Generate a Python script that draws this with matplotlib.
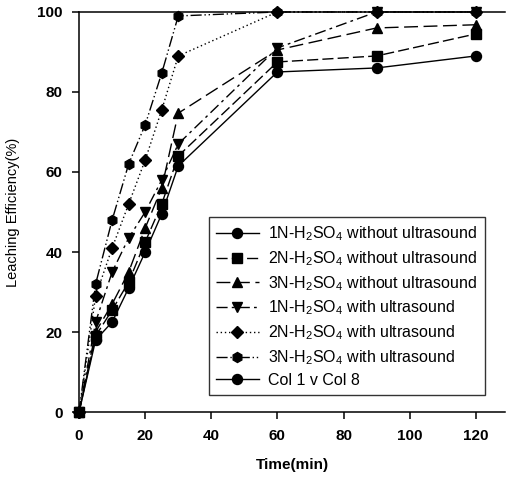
#!/usr/bin/env python3
"""Leaching efficiency vs time, with and without ultrasound."""

import matplotlib
matplotlib.use("Agg")
import matplotlib.pyplot as plt

plt.rcParams["font.family"] = ["Liberation Sans", "DejaVu Sans"]
plt.rcParams["mathtext.fontset"] = "custom"
plt.rcParams["mathtext.rm"] = "Liberation Sans"
plt.rcParams["mathtext.it"] = "Liberation Sans:italic"
plt.rcParams["mathtext.bf"] = "Liberation Sans:bold"

time_min = [0, 5, 10, 15, 20, 25, 30, 60, 90, 120]

n1_without = [0, 18, 22.5, 31, 40, 49.5, 61.5, 85, 86, 89]
n2_without = [0, 19, 25.5, 32.5, 42.5, 52, 64, 87.5, 89, 94.5]
n3_without = [0, 20, 27, 35, 46, 56, 74.7, 90.5, 96, 96.8]
n1_with = [0, 22.5, 35, 43.5, 50, 58, 67, 91, 100, 100]
n2_with = [0, 29, 41, 52, 63, 75.5, 89, 100, 100, 100]
n3_with = [0, 32, 48, 62, 71.8, 84.7, 99, 100, 100, 100]
col1_time = [0]
col1_val = [0]

labels = [
    r"1N-H$_2$SO$_4$ without ultrasound",
    r"2N-H$_2$SO$_4$ without ultrasound",
    r"3N-H$_2$SO$_4$ without ultrasound",
    r"1N-H$_2$SO$_4$ with ultrasound",
    r"2N-H$_2$SO$_4$ with ultrasound",
    r"3N-H$_2$SO$_4$ with ultrasound",
    "Col 1 v Col 8",
]

fig = plt.figure(figsize=(5.07, 4.78), dpi=100)
ax = fig.add_axes([0.156, 0.138, 0.841, 0.837])

series = [
    (time_min, n1_without, "o", "-"),
    (time_min, n2_without, "s", (0, (8, 3))),
    (time_min, n3_without, "^", (0, (10, 4))),
    (time_min, n1_with, "v", (0, (8, 3, 2, 3))),
    (time_min, n2_with, "D", (0, (1, 2))),
    (time_min, n3_with, "h", (0, (8, 2, 1, 2, 1, 2))),
    (col1_time, col1_val, "o", "-"),
]

for (x, y, mk, ls), lab in zip(series, labels):
    ms = 6.3 if mk == "D" else 7.2
    ax.plot(x, y, color="black", marker=mk, linestyle=ls, linewidth=1.0,
            markersize=ms, label=lab, clip_on=False, zorder=3)

ax.set_xlim(0, 129)
ax.set_ylim(0, 100)
ax.set_xticks([0, 20, 40, 60, 80, 100, 120])
ax.set_yticks([0, 20, 40, 60, 80, 100])
ax.spines["right"].set_visible(False)
for s in ("left", "bottom", "top"):
    ax.spines[s].set_linewidth(1.1)
ax.tick_params(direction="out", length=5, width=1.1, labelsize=11,
               top=False, right=False, pad=7)
for t in ax.get_xticklabels() + ax.get_yticklabels():
    t.set_fontweight("bold")

ax.set_xlabel("Time(min)", fontsize=11, fontweight="bold", labelpad=11)
ax.set_ylabel("Leaching Efficiency(%)", fontsize=10.5, labelpad=12)

leg = ax.legend(loc="lower right", bbox_to_anchor=(0.952, 0.042), fontsize=11.5,
                frameon=True, fancybox=False, edgecolor="black",
                handlelength=2.7, labelspacing=0.38, borderpad=0.45,
                handletextpad=0.6, borderaxespad=0)
leg.get_frame().set_linewidth(1.0)

fig.savefig("out.png", dpi=100)
